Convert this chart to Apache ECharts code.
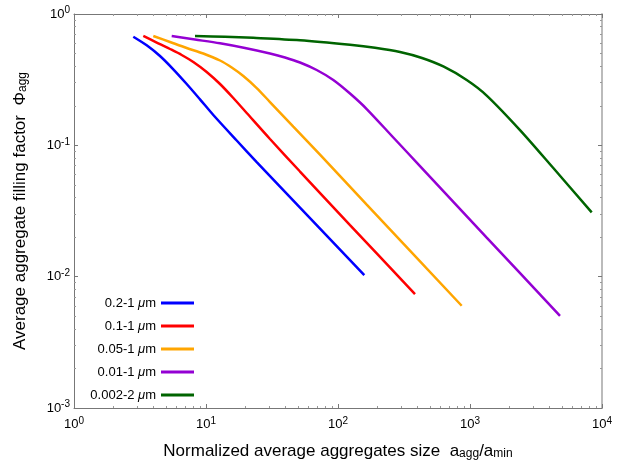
<!DOCTYPE html>
<html>
<head>
<meta charset="utf-8">
<script src="https://cdn.jsdelivr.net/npm/echarts@6/dist/echarts.min.js"></script>
<style>html,body{margin:0;padding:0;background:#fff}#c{width:632px;height:469px}</style>
</head>
<body>
<div id="c"></div>
<script>
const seriesNames = ['0.2-1 μm', '0.1-1 μm', '0.05-1 μm', '0.01-1 μm', '0.002-2 μm'];
const seriesColors = ['#0000ff', '#ff0000', '#ffa500', '#9400d3', '#006400'];

const blueX = [2.813, 3.554, 4.482, 5.652, 7.142, 9.005, 11.36, 17.08, 24.22, 51.54, 123.3, 158.2];
const blueY = [0.6715, 0.5776, 0.4787, 0.3792, 0.2930, 0.2240, 0.1702, 0.1088, 0.07461, 0.03359, 0.01338, 0.01028];
const redX = [3.350, 4.232, 5.337, 6.544, 8.013, 10.12, 12.77, 16.10, 20.34, 30.53, 51.54, 123.3, 383.1];
const redY = [0.680, 0.6066, 0.5414, 0.4873, 0.4310, 0.3617, 0.2930, 0.2292, 0.1762, 0.1117, 0.06318, 0.02472, 0.007372];
const orangeX = [3.989, 5.337, 7.142, 9.539, 12.77, 15.66, 19.17, 24.22, 30.53, 45.86, 73.05, 165.0, 865.0];
const orangeY = [0.680, 0.6119, 0.5508, 0.5003, 0.4425, 0.3914, 0.3372, 0.2731, 0.2137, 0.1390, 0.08511, 0.03540, 0.006004];
const purpleX = [5.497, 8.254, 12.77, 19.74, 30.53, 39.67, 51.54, 68.96, 92.13, 123.3, 165.0, 262.4, 418.0, 1338, 4806];
const purpleY = [0.680, 0.6394, 0.5981, 0.5508, 0.5003, 0.4664, 0.4272, 0.3746, 0.3144, 0.2480, 0.1890, 0.1147, 0.06957, 0.01985, 0.005038];
const greenX = [8.254, 13.93, 22.82, 51.54, 123.3, 190.7, 294.9, 432.9, 627.9, 944.1, 1338, 2392, 4276, 8356];
const greenY = [0.680, 0.6704, 0.6587, 0.6316, 0.5826, 0.5528, 0.5136, 0.4624, 0.3984, 0.3144, 0.2394, 0.1307, 0.06716, 0.03089];

const xMin = 1, xMax = 10000, yMin = 0.001, yMax = 1;

const allX = [blueX, redX, orangeX, purpleX, greenX];
const allY = [blueY, redY, orangeY, purpleY, greenY];

const FONT = 'Liberation Sans';
const supRich = {
  b: {fontSize: 13, color: '#000', fontFamily: FONT},
  s: {fontSize: 10, color: '#000', fontFamily: FONT, padding: [0, 0, 7, 0]}
};
function powLabel(v) {
  const e = Math.round(Math.log10(v));
  return '{b|10}{s|' + e + '}';
}

const frameLine = {show: true, lineStyle: {color: '#777', width: 1}};
const tick = {show: true, inside: true, length: 4, lineStyle: {color: '#777'}};
const minor = {show: true, splitNumber: 9, length: 2, lineStyle: {color: '#999'}};
const titleRich = {
  n: {fontSize: 17, fontFamily: FONT, color: '#000', padding: [0, 0, 4, 0]},
  sub: {fontSize: 12, fontFamily: FONT, color: '#000'}
};

const chart = echarts.init(document.getElementById('c'), null, {renderer: 'canvas'});
chart.setOption({
  animation: false,
  backgroundColor: '#fff',
  grid: {left: 74, right: 30, top: 14, bottom: 61, containLabel: false, outerBoundsMode: 'none'},
  legend: {
    orient: 'vertical',
    left: 78, top: 295,
    padding: 0,
    align: 'right',
    itemWidth: 33, itemHeight: 3,
    itemGap: 7,
    icon: 'rect',
    formatter: n => n.replace('μ', '{i|μ}'),
    textStyle: {
      width: 78, align: 'right', fontSize: 13, fontFamily: FONT, color: '#000', lineHeight: 16,
      rich: {i: {fontStyle: 'italic', fontSize: 13, fontFamily: FONT, color: '#000'}}
    },
    data: seriesNames
  },
  xAxis: [{
    type: 'log', min: xMin, max: xMax, logBase: 10,
    axisLine: frameLine, axisTick: tick, minorTick: minor, splitLine: {show: false},
    axisLabel: {formatter: powLabel, rich: supRich, margin: 8},
    name: '{n|Normalized average aggregates size  a}{sub|agg}{n|/a}{sub|min}',
    nameLocation: 'middle', nameGap: 35,
    nameTextStyle: {rich: titleRich}
  }, {
    type: 'log', min: xMin, max: xMax, logBase: 10, position: 'top',
    axisLine: frameLine, axisTick: tick, minorTick: minor, splitLine: {show: false},
    axisLabel: {show: false}
  }],
  yAxis: [{
    type: 'log', min: yMin, max: yMax, logBase: 10,
    axisLine: frameLine, axisTick: tick, minorTick: minor, splitLine: {show: false},
    axisLabel: {formatter: powLabel, rich: supRich, margin: 4},
    name: '{n|Average aggregate filling factor  Φ}{sub|agg}',
    nameLocation: 'middle', nameGap: 41, nameRotate: 90,
    nameTextStyle: {rich: titleRich}
  }, {
    type: 'log', min: yMin, max: yMax, logBase: 10, position: 'right',
    axisLine: {show: true, lineStyle: {color: '#bbb', width: 2}}, axisTick: tick, minorTick: minor, splitLine: {show: false},
    axisLabel: {show: false}
  }],
  series: seriesNames.map((name, i) => ({
    name: name,
    type: 'line',
    smooth: 0.3,
    showSymbol: false,
    symbol: 'none',
    color: seriesColors[i],
    lineStyle: {width: 2.5, color: seriesColors[i]},
    data: allX[i].map((x, j) => [x, allY[i][j]])
  }))
});
</script>
</body>
</html>
